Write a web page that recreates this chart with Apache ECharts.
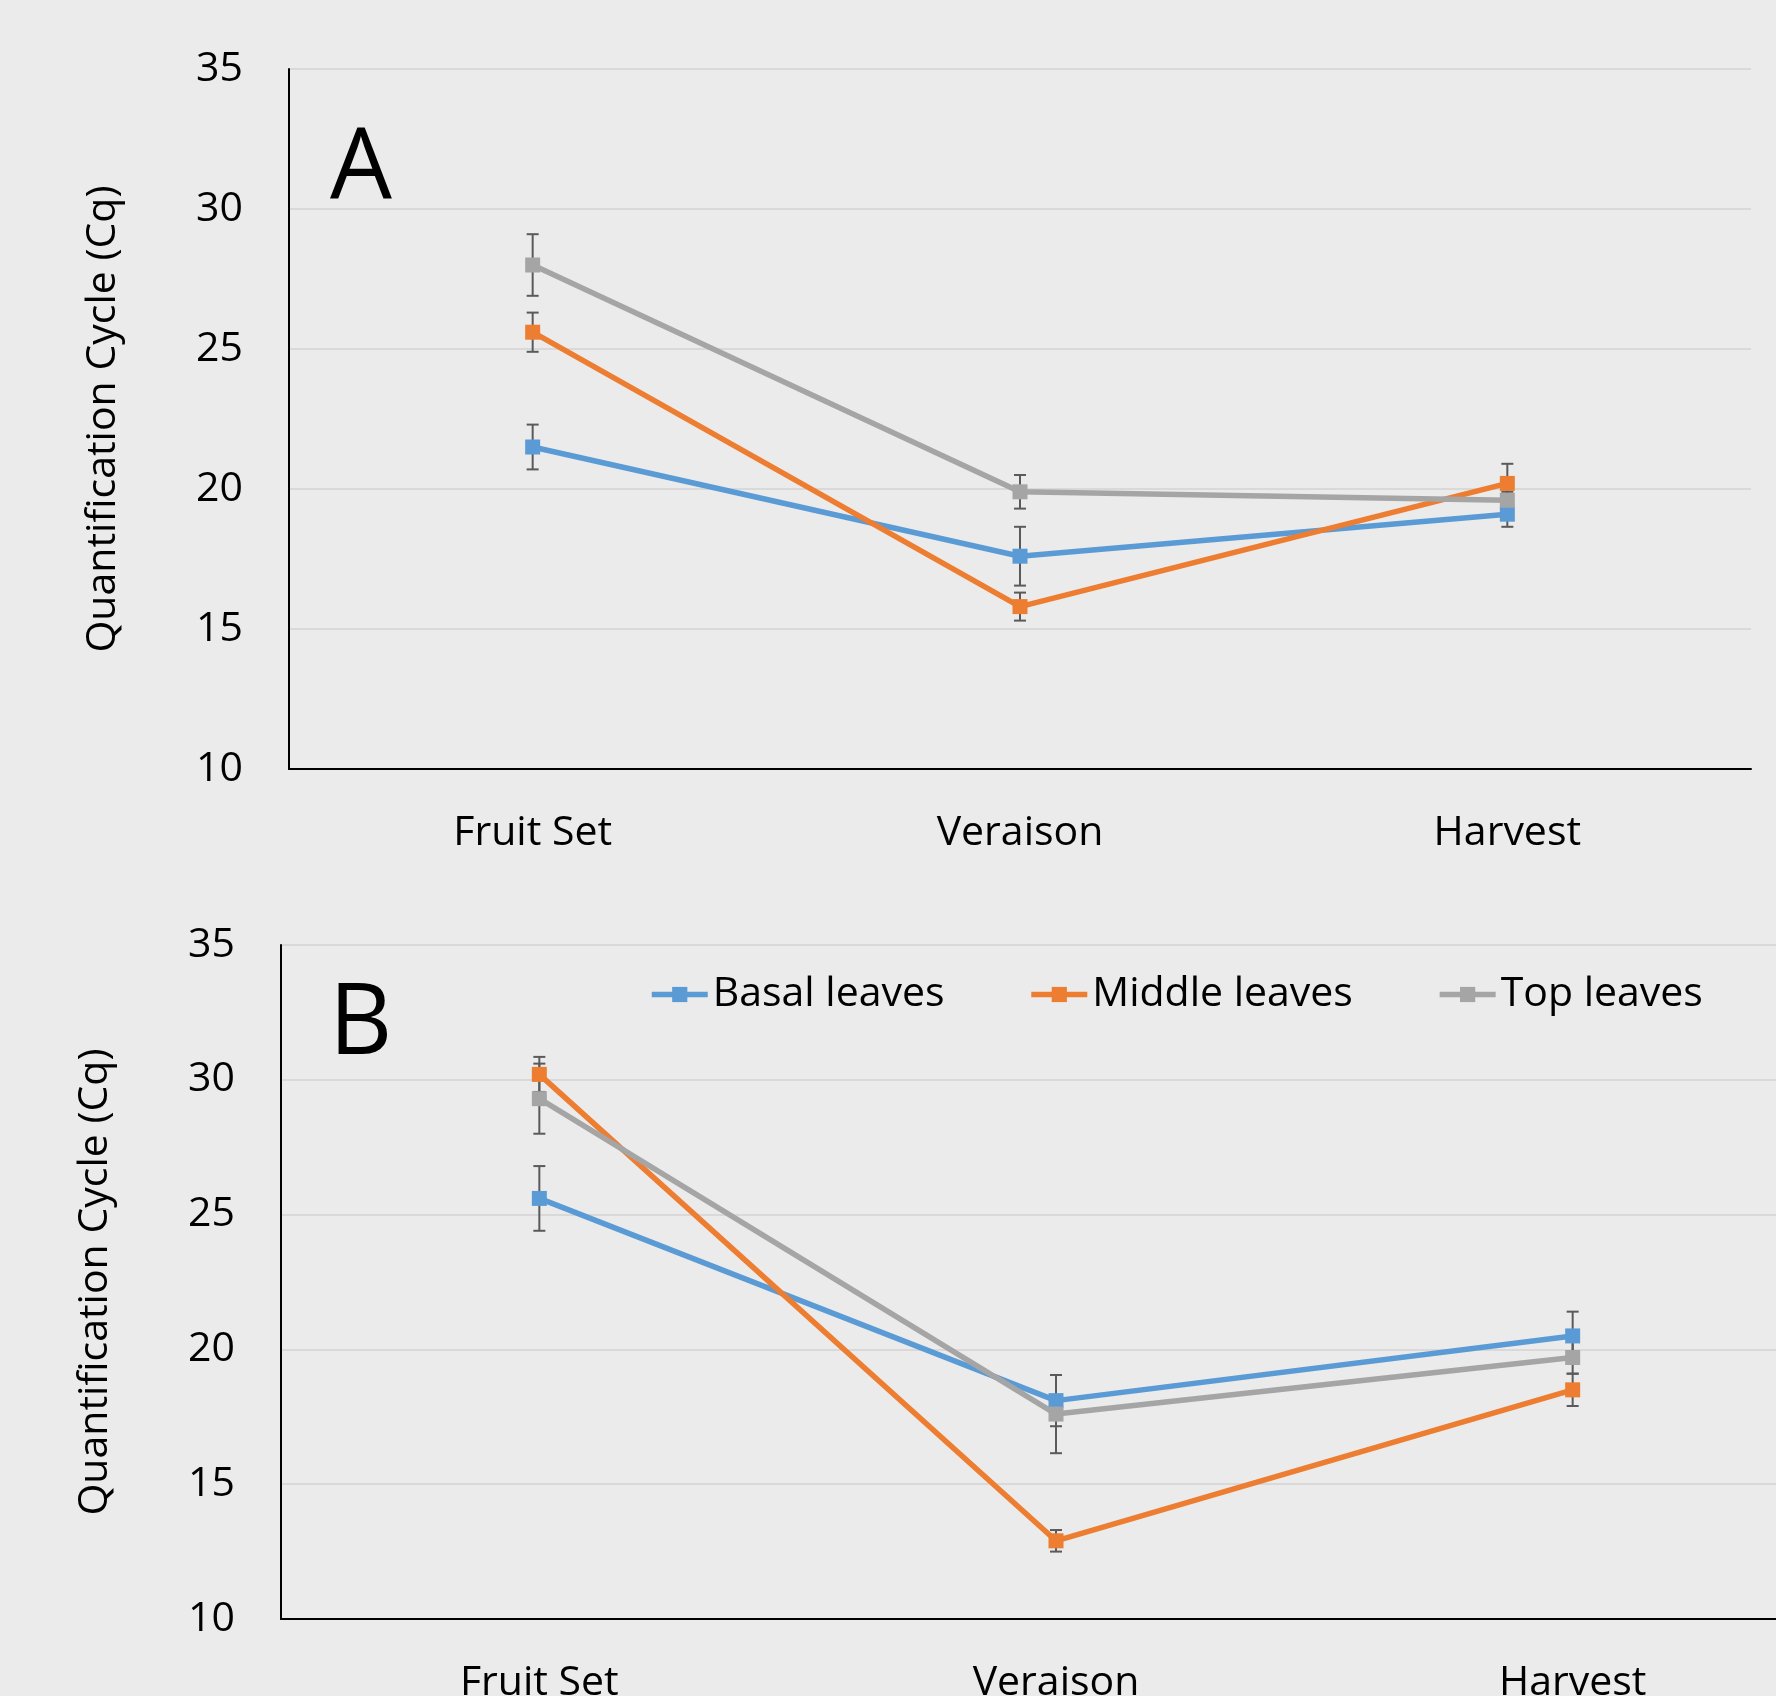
<!DOCTYPE html>
<html>
<head>
<meta charset="utf-8">
<script src="https://cdn.jsdelivr.net/npm/echarts@6/dist/echarts.min.js"></script>
<style>
html,body{margin:0;padding:0;background:#ebebeb;overflow:hidden;}
#wrap{width:1776px;height:1696px;overflow:hidden;position:relative;}
#c{width:1850px;height:1696px;}
</style>
</head>
<body>
<div id="wrap"><div id="c"></div></div>
<script>
var categories = ['Fruit Set', 'Veraison', 'Harvest'];
var seriesNames = ['Basal leaves', 'Middle leaves', 'Top leaves'];
var yTicks = {min: 10, max: 35, interval: 5};

var A_basal = [21.5, 17.6, 19.1];
var A_basalErr = [0.8, 1.05, 0.45];
var A_middle = [25.6, 15.8, 20.2];
var A_middleErr = [0.7, 0.5, 0.7];
var A_top = [28.0, 19.9, 19.6];
var A_topErr = [1.1, 0.6, 0.3];

var B_basal = [25.6, 18.1, 20.5];
var B_basalErr = [1.2, 0.95, 0.9];
var B_middle = [30.2, 12.9, 18.5];
var B_middleErr = [0.65, 0.4, 0.6];
var B_top = [29.3, 17.6, 19.7];
var B_topErr = [1.3, 1.45, 0.6];

var panelLetters = ['A', 'B'];

var colors = ['#5B9BD5', '#ED7D31', '#A5A5A5'];
var FONT = '"Open Sans", "Noto Sans", sans-serif';

var chart = echarts.init(document.getElementById('c'));

function xAxisFor(gi) {
  return {
    type: 'category', gridIndex: gi, data: categories, boundaryGap: true,
    axisLine: {show: true, lineStyle: {color: '#000', width: 2}},
    axisTick: {show: false},
    axisLabel: {color: '#000', fontSize: 41, fontFamily: FONT, margin: 44},
    splitLine: {show: false}
  };
}
function yAxisFor(gi) {
  return {
    type: 'value', gridIndex: gi, min: yTicks.min, max: yTicks.max, interval: yTicks.interval,
    name: 'Quantification Cycle (Cq)', nameLocation: 'middle', nameGap: 165,
    nameTextStyle: {color: '#000', fontSize: 41, fontFamily: FONT},
    axisLine: {show: true, lineStyle: {color: '#000', width: 2}},
    axisTick: {show: false},
    axisLabel: {color: '#000', fontSize: 41, fontFamily: FONT, margin: 46},
    splitLine: {show: true, lineStyle: {color: '#d9d9d9', width: 2}}
  };
}

function lineSeries(name, data, gi, ci) {
  return {
    name: name, type: 'line', xAxisIndex: gi, yAxisIndex: gi, data: data,
    symbol: 'rect', symbolSize: 15, z: 3,
    lineStyle: {color: colors[ci], width: 5.5},
    itemStyle: {color: colors[ci]},
    emphasis: {disabled: true}, animation: false
  };
}

function errSeries(vals, errs, gi) {
  var d = vals.map(function (v, i) { return [i, v - errs[i], v + errs[i]]; });
  return {
    type: 'custom', xAxisIndex: gi, yAxisIndex: gi, data: d, z: 2,
    encode: {x: 0, y: [1, 2]}, silent: true, animation: false,
    renderItem: function (params, api) {
      var lo = api.coord([api.value(0), api.value(1)]);
      var hi = api.coord([api.value(0), api.value(2)]);
      var w = 6;
      var st = {stroke: '#5a5a5a', lineWidth: 2};
      return {
        type: 'group',
        children: [
          {type: 'line', shape: {x1: lo[0], y1: lo[1], x2: hi[0], y2: hi[1]}, style: st},
          {type: 'line', shape: {x1: lo[0] - w, y1: lo[1], x2: lo[0] + w, y2: lo[1]}, style: st},
          {type: 'line', shape: {x1: hi[0] - w, y1: hi[1], x2: hi[0] + w, y2: hi[1]}, style: st}
        ]
      };
    }
  };
}

var option = {
  backgroundColor: '#ebebeb',
  animation: false,
  grid: [
    {left: 289, top: 69, width: 1462, height: 700, outerBoundsMode: 'none', containLabel: false},
    {left: 281, top: 945, width: 1550, height: 674, outerBoundsMode: 'none', containLabel: false}
  ],
  xAxis: [xAxisFor(0), xAxisFor(1)],
  yAxis: [yAxisFor(0), yAxisFor(1)],
  legend: {
    data: seriesNames, left: 649, top: 974, padding: 0,
    itemWidth: 56, itemHeight: 19, itemGap: 84,
    lineStyle: {width: 5.5},
    textStyle: {color: '#000', fontSize: 41, fontFamily: FONT}, selectedMode: false
  },
  graphic: [
    {type: 'text', left: 330, top: 121, style: {text: panelLetters[0], fontSize: 98, fontFamily: FONT, fill: '#000'}},
    {type: 'text', left: 329, top: 977, style: {text: panelLetters[1], fontSize: 98, fontFamily: FONT, fill: '#000'}}
  ],
  series: [
    errSeries(A_basal, A_basalErr, 0),
    errSeries(A_middle, A_middleErr, 0),
    errSeries(A_top, A_topErr, 0),
    errSeries(B_basal, B_basalErr, 1),
    errSeries(B_middle, B_middleErr, 1),
    errSeries(B_top, B_topErr, 1),
    lineSeries(seriesNames[0], A_basal, 0, 0),
    lineSeries(seriesNames[1], A_middle, 0, 1),
    lineSeries(seriesNames[2], A_top, 0, 2),
    lineSeries(seriesNames[0], B_basal, 1, 0),
    lineSeries(seriesNames[1], B_middle, 1, 1),
    lineSeries(seriesNames[2], B_top, 1, 2)
  ]
};
chart.setOption(option);
</script>
</body>
</html>
